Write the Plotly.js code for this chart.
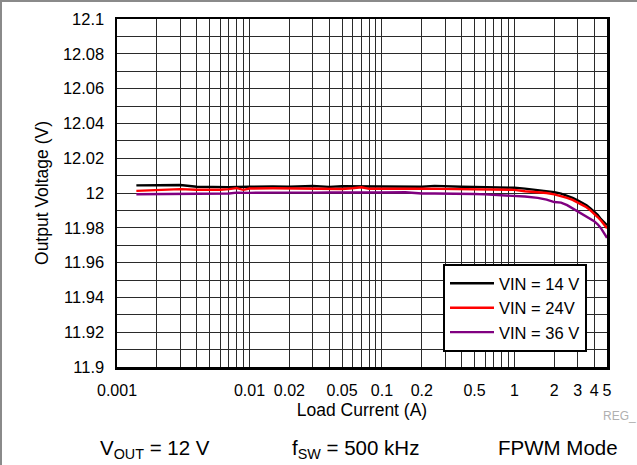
<!DOCTYPE html>
<html>
<head>
<meta charset="utf-8">
<script src="https://cdn.plot.ly/plotly-3.0.1.min.js"></script>
<style>
html,body{margin:0;padding:0;background:#fff;}
#wrap{position:relative;width:637px;height:465px;}
#frame{position:absolute;left:0;top:0;width:635px;height:463px;border-top:2px solid #8a8a8a;border-left:2px solid #8a8a8a;pointer-events:none;}
</style>
</head>
<body>
<div id="wrap"><div id="chart"></div><div id="frame"></div></div>
<script>
// Load current (A)
const loadCurrent = [0.0014,0.002,0.003,0.004,0.005,0.006,0.007,0.008,0.009,0.01,0.015,0.02,0.03,0.04,0.05,0.06,0.07,0.08,0.1,0.15,0.2,0.25,0.3,0.4,0.5,0.6,0.7,0.8,0.9,1,1.2,1.5,1.75,2,2.25,2.5,2.75,3,3.25,3.5,3.75,4,4.25,4.5,4.75,5];
// Output voltage (V)
const vin14 = [12.0044,12.0045,12.0046,12.0036,12.0034,12.0034,12.0034,12.0035,12.0034,12.0036,12.0037,12.0036,12.0040,12.0035,12.0039,12.0039,12.0036,12.0038,12.0036,12.0036,12.0036,12.0041,12.0038,12.0036,12.0035,12.0034,12.0034,12.0033,12.0034,12.0030,12.0025,12.0018,12.0012,12.0005,11.9996,11.9985,11.9972,11.9958,11.9945,11.9930,11.9912,11.9895,11.9875,11.9850,11.9832,11.9815];
const vin24 = [12.0012,12.0018,12.0022,12.0019,12.0018,12.0019,12.0022,12.0028,12.0018,12.0026,12.0027,12.0026,12.0022,12.0023,12.0023,12.0027,12.0033,12.0024,12.0023,12.0024,12.0025,12.0024,12.0024,12.0023,12.0022,12.0021,12.0021,12.0020,12.0021,12.0018,12.0010,12.0006,12.0000,11.9992,11.9982,11.9972,11.9960,11.9946,11.9933,11.9918,11.9900,11.9882,11.9862,11.9842,11.9820,11.9798];
const vin36 = [11.9993,11.9994,11.9996,11.9997,11.9998,11.9999,11.9997,12.0002,12.0001,12.0001,12.0002,12.0001,12.0002,12.0003,12.0002,12.0003,12.0002,12.0004,12.0003,12.0004,11.9997,11.9997,11.9997,11.9996,11.9994,11.9992,11.9990,11.9988,11.9987,11.9983,11.9980,11.9972,11.9962,11.9948,11.9945,11.9930,11.9912,11.9895,11.9880,11.9866,11.9852,11.9838,11.9820,11.9798,11.9770,11.9742];
const seriesNames = ["VIN = 14 V","VIN = 24V","VIN = 36 V"];
const seriesColors = ["#000000","#ff0000","#800080"];

// Axis grid/tick positions and labels
const xTickVals = [0.001,0.002,0.003,0.004,0.005,0.006,0.007,0.008,0.009,0.01,0.02,0.03,0.04,0.05,0.06,0.07,0.08,0.09,0.1,0.2,0.3,0.4,0.5,0.6,0.7,0.8,0.9,1,2,3,4,5];
const xTickLabels = ["0.001","","","","","","","","","0.01","0.02","","","0.05","","","","","0.1","0.2","","","0.5","","","","","1","2","3","4","5"];
const yTickVals = [11.9,11.91,11.92,11.93,11.94,11.95,11.96,11.97,11.98,11.99,12.0,12.01,12.02,12.03,12.04,12.05,12.06,12.07,12.08,12.09,12.1];
const yTickLabels = ["11.9","","11.92","","11.94","","11.96","","11.98","","12","","12.02","","12.04","","12.06","","12.08","","12.1"];

const ys = [vin14, vin24, vin36];
const traces = ys.map((y,i)=>({
  x: loadCurrent, y: y, type:'scatter', mode:'lines', name: seriesNames[i],
  line:{color: seriesColors[i], width: 2.4}
}));

const FONT = "Liberation Sans, Arial, Helvetica, sans-serif";
const layout = {
  width:637, height:465,
  margin:{l:117, r:30, t:19, b:98},
  paper_bgcolor:'#fff', plot_bgcolor:'#fff',
  font:{family:FONT, color:'#000', size:16},
  showlegend:true,
  legend:{x:(443-117)/490, xanchor:'left', y:(367-264)/348, yanchor:'top', bgcolor:'#fff', bordercolor:'#000', borderwidth:2,
          font:{size:16.5, family:FONT}, tracegroupgap:0, itemwidth:44},
  xaxis:{type:'log', range:[Math.log10(0.001), Math.log10(5)], tickmode:'array', tickvals:xTickVals, ticktext:xTickLabels,
         showgrid:true, gridcolor:'#2a2a2a', gridwidth:1, zeroline:false, ticks:'', ticklabelstandoff:7,
         showline:true, linecolor:'#000', linewidth:2.5, mirror:true, tickfont:{size:16},
         title:{text:'Load Current (A)', font:{size:17.5}, standoff:6}},
  yaxis:{range:[11.9,12.1], tickmode:'array', tickvals:yTickVals, ticktext:yTickLabels,
         showgrid:true, gridcolor:'#2a2a2a', gridwidth:1, zeroline:false, ticks:'', ticklabelstandoff:7,
         showline:true, linecolor:'#000', linewidth:2.5, mirror:true, tickfont:{size:16.5},
         title:{text:'Output Voltage (V)', font:{size:17.5}, standoff:10}},
  annotations:[
    {text:'V<sub>OUT</sub> = 12 V', xref:'paper', yref:'paper', x:(155-117)/490, y:(367-449)/348, xanchor:'center', yanchor:'middle', showarrow:false, font:{size:20.5}},
    {text:'f<sub>SW</sub> = 500 kHz', xref:'paper', yref:'paper', x:(355-117)/490, y:(367-449)/348, xanchor:'center', yanchor:'middle', showarrow:false, font:{size:20.5}},
    {text:'FPWM Mode', xref:'paper', yref:'paper', x:(558-117)/490, y:(367-447)/348, xanchor:'center', yanchor:'middle', showarrow:false, font:{size:20.5}},
    {text:'REG_', xref:'paper', yref:'paper', x:(601-117)/490, y:(367-416)/348, xanchor:'left', yanchor:'middle', showarrow:false, font:{size:12, color:'#b0b0b0'}}
  ]
};
Plotly.newPlot('chart', traces, layout, {staticPlot:true, displayModeBar:false});
</script>
</body>
</html>
